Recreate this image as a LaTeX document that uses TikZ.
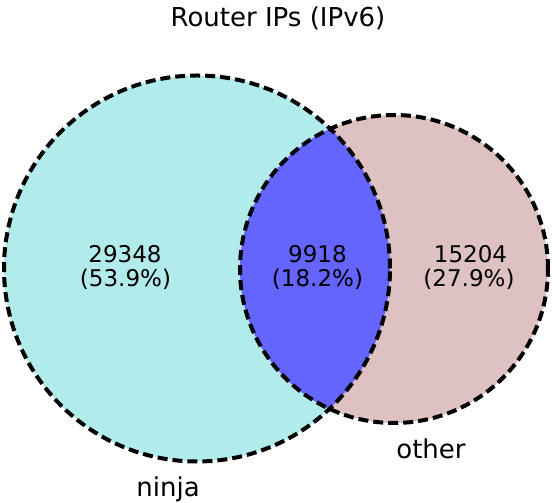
\documentclass[tikz,border=0pt]{standalone}
\usepackage{fontspec}
\setmainfont{DejaVu Sans}
\begin{document}
\begin{tikzpicture}[x=1pt,y=1pt,
  vline/.style={draw=black,line width=4pt,dash pattern=on 10pt off 5pt},
  lbl/.style={font=\fontsize{23}{27}\selectfont,inner sep=0pt,anchor=base},
  big/.style={font=\fontsize{26}{31}\selectfont,inner sep=0pt,anchor=base}]
\useasboundingbox (0,0) rectangle (552,503);
\coordinate (cA) at (197,234.5);
\coordinate (cB) at (394,234);
\fill[fill={rgb,255:red,178;green,235;blue,235}] (cA) circle (193);
\fill[fill={rgb,255:red,222;green,193;blue,193}] (cB) circle (154);
\begin{scope}
  \clip (cA) circle (193);
  \fill[fill={rgb,255:red,100;green,100;blue,255}] (cB) circle (154);
\end{scope}
\draw[vline] (cA) circle (193);
\draw[vline] (cB) circle (154);
\node[big] (t) at (278,476) {Router IPs (IPv6)};
\node[lbl] (a1) at (125,240) {29348};
\node[lbl] (a2) at (125.5,216) {(53.9\%)};
\node[lbl] (ab1) at (317.5,240) {9918};
\node[lbl] (ab2) at (317.5,216) {(18.2\%)};
\node[lbl] (b1) at (470.5,240) {15204};
\node[lbl] (b2) at (469,216) {(27.9\%)};
\node[big] (na) at (168,6) {ninja};
\node[big] (nb) at (431,44) {other};
\end{tikzpicture}
\end{document}
